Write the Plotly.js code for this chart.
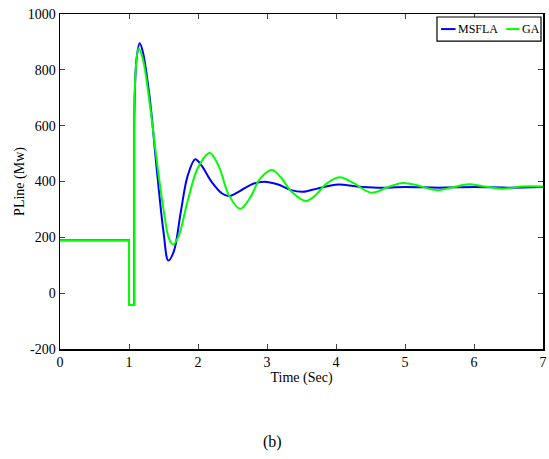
<!DOCTYPE html>
<html>
<head>
<meta charset="utf-8">
<script src="https://cdn.plot.ly/plotly-3.0.1.min.js"></script>
<style>html,body{margin:0;padding:0;background:#fff;}#chart{width:549px;height:459px;}</style>
</head>
<body>
<div id="chart"></div>
<script>
// Pre-fault / fault step portion (shared shape)
const stepTime = [0, 1.0, 1.0, 1.075, 1.075];
const stepMSFLA = [190, 190, -42, -42, 600];
const stepGA = [190, 190, -42, -42, 600];

// Post-fault oscillation
const timeMSFLA = [1.075, 1.11, 1.155, 1.2, 1.3, 1.4, 1.5, 1.57, 1.65, 1.75, 1.85, 1.96, 2.05, 2.2, 2.35, 2.45, 2.6, 2.8, 2.96, 3.15, 3.35, 3.52, 3.75, 4.03, 4.3, 4.6, 5.0, 5.5, 6.0, 6.5, 7.0];
const valMSFLA = [600, 840, 895, 865, 700, 450, 220, 117, 150, 290, 420, 480, 458, 398, 357, 348, 365, 392, 399, 390, 369, 363, 376, 389, 382, 378, 380, 378, 380, 378, 380];

const timeGA = [1.075, 1.1, 1.14, 1.2, 1.3, 1.4, 1.5, 1.58, 1.64, 1.72, 1.85, 2.0, 2.17, 2.3, 2.45, 2.61, 2.75, 2.9, 3.07, 3.2, 3.35, 3.56, 3.7, 3.85, 4.05, 4.25, 4.51, 4.75, 4.97, 5.2, 5.46, 5.7, 5.92, 6.15, 6.41, 6.7, 7.0];
const valGA = [600, 810, 877, 840, 680, 480, 300, 195, 174, 205, 330, 450, 502, 455, 350, 302, 340, 410, 441, 415, 365, 330, 350, 390, 415, 395, 360, 380, 395, 385, 369, 380, 390, 382, 374, 382, 382];

const xTicks = [0, 1, 2, 3, 4, 5, 6, 7];
const yTicks = [-200, 0, 200, 400, 600, 800, 1000];
const seriesNames = ['MSFLA', 'GA'];

const blue = '#0000ff', green = '#00ff00';
const traces = [
  {x: stepTime, y: stepMSFLA, mode: 'lines', line: {color: blue, width: 2}, showlegend: false, hoverinfo: 'skip'},
  {x: timeMSFLA, y: valMSFLA, mode: 'lines', name: seriesNames[0], showlegend: false, line: {color: blue, width: 2, shape: 'spline', smoothing: 1}},
  {x: stepTime, y: stepGA, mode: 'lines', line: {color: green, width: 2}, showlegend: false, hoverinfo: 'skip'},
  {x: timeGA, y: valGA, mode: 'lines', name: seriesNames[1], showlegend: false, line: {color: green, width: 2, shape: 'spline', smoothing: 1}}
];

const fam = 'Liberation Serif, Times New Roman, serif';
const font = {family: fam, size: 13, color: '#000'};
const layout = {
  width: 549, height: 459,
  margin: {l: 60, r: 6, t: 14, b: 110},
  paper_bgcolor: '#fff', plot_bgcolor: '#fff',
  font: font,
  showlegend: false,
  xaxis: {range: [0, 7], tickvals: xTicks, ticktext: xTicks.map(String), ticks: 'inside', ticklen: 5,
    showline: true, linecolor: '#000', linewidth: 1.5, mirror: 'ticks', showgrid: false, zeroline: false,
    tickfont: {family: fam, size: 14, color: '#000'}, title: {text: 'Time (Sec)', font: {family: fam, size: 14, color: '#000'}, standoff: 0}},
  yaxis: {range: [-200, 1000], tickvals: yTicks, ticktext: yTicks.map(String), ticks: 'inside', ticklen: 5,
    showline: true, linecolor: '#000', linewidth: 1.5, mirror: 'ticks', showgrid: false, zeroline: false,
    tickfont: {family: fam, size: 14, color: '#000'}, title: {text: 'PLine (Mw)', font: {family: fam, size: 14, color: '#000'}, standoff: 0}},
  shapes: [
    {type: 'rect', xref: 'paper', yref: 'paper', x0: 0.7805, x1: 0.9959, y0: 0.919, y1: 0.991, line: {color: '#000', width: 1.2}, fillcolor: '#fff', layer: 'above'},
    {type: 'line', xref: 'paper', yref: 'paper', x0: 0.789, x1: 0.819, y0: 0.955, y1: 0.955, line: {color: blue, width: 2}, layer: 'above'},
    {type: 'line', xref: 'paper', yref: 'paper', x0: 0.924, x1: 0.951, y0: 0.955, y1: 0.955, line: {color: green, width: 2}, layer: 'above'}
  ],
  annotations: [
    {text: seriesNames[0], xref: 'paper', yref: 'paper', x: 0.819, y: 0.955, xanchor: 'left', yanchor: 'middle', showarrow: false, font: {family: fam, size: 12, color: '#000'}},
    {text: seriesNames[1], xref: 'paper', yref: 'paper', x: 0.952, y: 0.955, xanchor: 'left', yanchor: 'middle', showarrow: false, font: {family: fam, size: 12, color: '#000'}},
    {text: '(b)', xref: 'paper', yref: 'paper', x: 0.439, y: -0.278, xanchor: 'center', yanchor: 'middle', showarrow: false,
    font: {family: fam, size: 16, color: '#000'}}]
};
Plotly.newPlot('chart', traces, layout, {displayModeBar: false, staticPlot: true});
</script>
</body>
</html>
